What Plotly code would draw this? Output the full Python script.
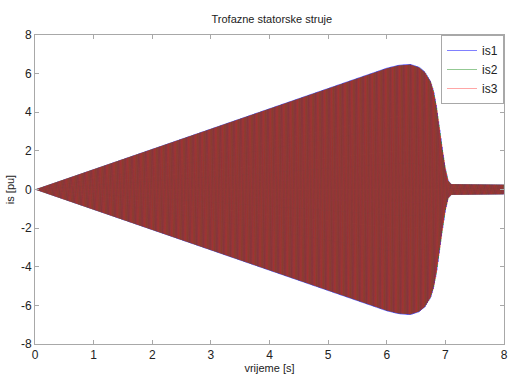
import numpy as np
import plotly.graph_objects as go

# Envelope of the phase-current amplitude (time [s], amplitude [pu])
env_t = [0.0, 1.0, 2.0, 3.0, 4.0, 5.0, 6.0, 6.2, 6.4, 6.55, 6.65, 6.75, 6.8, 6.85, 6.9, 6.95, 7.0, 7.05, 7.1, 8.0]
env_a = [0.0, 1.05, 2.1, 3.15, 4.2, 5.25, 6.3, 6.45, 6.5, 6.35, 6.1, 5.6, 5.1, 4.3, 3.2, 2.1, 1.1, 0.45, 0.28, 0.25]
freq_hz = 50.0
sample_dt = 0.001
phase_names = ["is1", "is2", "is3"]
phase_shift_deg = [0.0, -120.0, 120.0]
phase_colors = ["rgba(0,0,255,1)", "rgba(0,128,0,0.85)", "rgba(255,0,0,0.7)"]
x_ticks = [0, 1, 2, 3, 4, 5, 6, 7, 8]
y_ticks = [-8, -6, -4, -2, 0, 2, 4, 6, 8]

t = np.arange(0, 8.0 + sample_dt / 2, sample_dt)
amp = np.interp(t, env_t, env_a)

fig = go.Figure()
for name, sh, col in zip(phase_names, phase_shift_deg, phase_colors):
    y = amp * np.sin(2 * np.pi * freq_hz * t + np.deg2rad(sh))
    fig.add_trace(go.Scatter(x=t, y=y, mode="lines", name=name,
                             line=dict(color=col, width=0.5)))

font_fam = "Liberation Sans, Arial"
axis_common = dict(showline=True, mirror="ticks", linecolor="#a8a8a8", linewidth=1,
                   ticks="inside", ticklen=4, tickcolor="#a8a8a8", showgrid=False,
                   zeroline=False, ticklabeloverflow="allow",
                   tickfont=dict(family=font_fam, size=12, color="#222"))

fig.update_layout(
    width=509, height=374,
    margin=dict(l=35, r=1, t=35, b=30),
    paper_bgcolor="white", plot_bgcolor="white",
    title=dict(text="Trofazne statorske struje", x=0.534, xanchor="center",
               y=1 - 19 / 374, yanchor="middle", yref="container",
               font=dict(family=font_fam, size=11, color="#222")),
    xaxis=dict(range=[0, 8], tickvals=x_ticks, ticktext=[str(v) for v in x_ticks],
               title=dict(text="vrijeme [s]", standoff=2,
                          font=dict(family=font_fam, size=11, color="#222")),
               **axis_common),
    yaxis=dict(range=[-8, 8], tickvals=y_ticks, ticktext=[str(v) for v in y_ticks],
               title=dict(text="is [pu]", standoff=4,
                          font=dict(family=font_fam, size=11, color="#222")),
               **axis_common),
    legend=dict(x=1, xanchor="right", y=1, yanchor="top", bgcolor="white",
                bordercolor="#a8a8a8", borderwidth=1, itemwidth=30, tracegroupgap=0,
                font=dict(family=font_fam, size=12, color="#222")),
    showlegend=True,
)

fig.write_html("out.html")
